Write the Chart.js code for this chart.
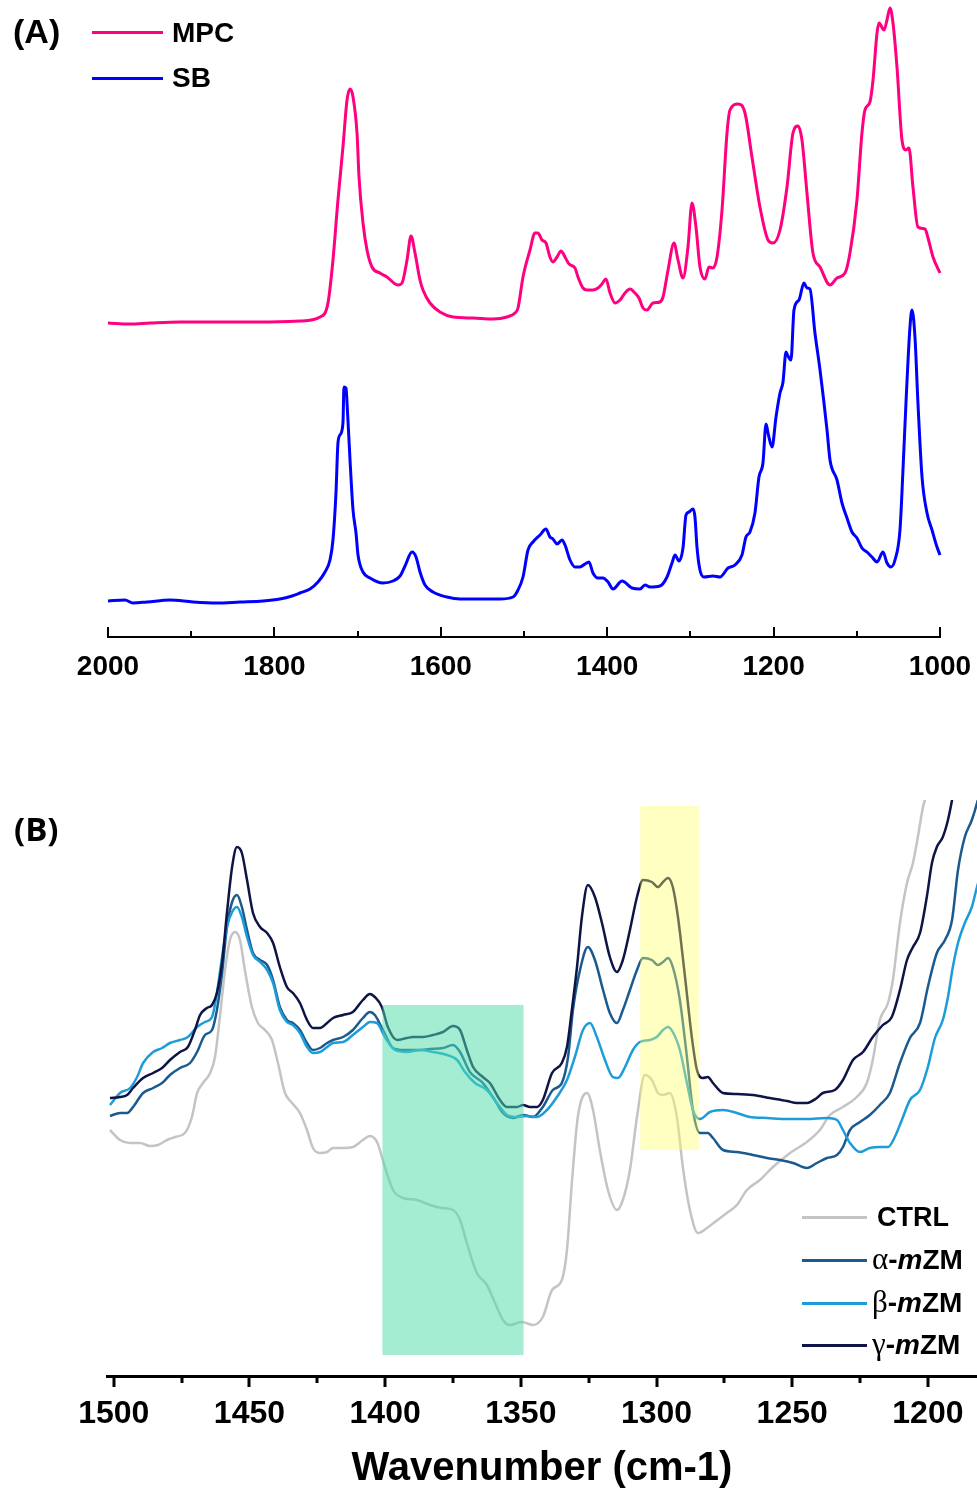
<!DOCTYPE html>
<html>
<head>
<meta charset="utf-8">
<script src="https://cdn.jsdelivr.net/npm/chart.js@4.4.1/dist/chart.umd.min.js"></script>
<style>
  html, body { margin: 0; padding: 0; background: #fff; }
  body { position: relative; width: 977px; height: 1489px; overflow: hidden; }
  canvas { position: absolute; left: 0px; }
  #cA { top: 0px; }
  #cB { top: 780px; }
  .t { position: absolute; white-space: nowrap; color: #000; font-family: 'Liberation Sans', Arial, sans-serif; font-weight: bold; }
  .ln { position: absolute; height: 3px; }
  .sym { font-family: 'Liberation Serif', 'DejaVu Serif', serif; font-weight: normal; font-size: 31px; }
  .it { font-style: italic; }
</style>
</head>
<body>
<canvas id="cA" width="977" height="700"></canvas>
<canvas id="cB" width="977" height="709"></canvas>

<div class="t" style="left:13px;top:14px;font-size:34px;line-height:34px;">(A)</div>
<div class="ln" style="left:92px;top:31px;width:71px;background:#FF0080"></div>
<div class="t" style="left:172px;top:19px;font-size:28px;line-height:28px;">MPC</div>
<div class="ln" style="left:92px;top:77px;width:71px;background:#0000FF"></div>
<div class="t" style="left:172px;top:64px;font-size:28px;line-height:28px;">SB</div>

<div class="t" style="left:14px;top:812px;font-size:33px;line-height:33px;font-family:'Open Sans',sans-serif;">(B)</div>

<div class="ln" style="left:802px;top:1216px;width:65px;background:#C4C4C4"></div>
<div class="t" style="left:877px;top:1203px;font-size:27px;line-height:28px;">CTRL</div>
<div class="ln" style="left:802px;top:1259px;width:65px;background:#1A5A8E"></div>
<div class="t" style="left:872px;top:1245px;font-size:28px;line-height:28px;"><span class="sym">α</span>-<span class="it">m</span>ZM</div>
<div class="ln" style="left:802px;top:1302px;width:65px;background:#1C9DD9"></div>
<div class="t" style="left:872px;top:1288px;font-size:28px;line-height:28px;"><span class="sym">β</span>-<span class="it">m</span>ZM</div>
<div class="ln" style="left:802px;top:1344px;width:65px;background:#0E1446"></div>
<div class="t" style="left:872px;top:1330px;font-size:28px;line-height:28px;"><span class="sym">γ</span>-<span class="it">m</span>ZM</div>

<script>
// ---------- Panel A data (wavenumber, absorbance a.u.) ----------
const mpcWn = [2000,1973.6,1949.5,1913.5,1865.4,1817.3,1769.2,1745.2,1735.6,1729.6,1723.6,1717.6,1712.7,1709.1,1705.5,1700.7,1698.3,1693.5,1688.7,1682.7,1673.1,1664.7,1651.4,1646.6,1640.6,1635.8,1631.0,1625.0,1621.4,1613.0,1601.0,1585.3,1561.3,1537.3,1520.4,1510.8,1507.2,1501.2,1492.8,1486.8,1483.2,1478.4,1473.6,1468.8,1465.2,1460.3,1455.5,1450.7,1445.9,1438.7,1435.1,1429.1,1424.3,1417.1,1411.1,1406.3,1401.5,1396.6,1390.6,1384.6,1378.6,1372.6,1366.6,1361.8,1357.0,1352.2,1345.0,1336.6,1332.9,1326.9,1319.7,1314.9,1308.9,1302.9,1298.1,1293.3,1288.5,1282.5,1277.7,1272.9,1268.0,1262.0,1256.0,1252.4,1242.8,1234.4,1226.0,1216.4,1206.7,1200.7,1192.3,1183.9,1176.7,1170.7,1165.9,1159.9,1152.7,1144.2,1132.2,1123.8,1114.2,1108.2,1099.8,1093.8,1090.2,1084.2,1080.5,1075.7,1073.3,1067.3,1063.7,1060.1,1056.5,1051.7,1045.7,1040.9,1037.3,1032.5,1026.5,1018.0,1014.4,1008.4,1000.0];
const mpcAbs = [314,313,314,315,315,315,316,320,334,377,437,490,537,548,540,504,460,414,387,370,364,360,352,354,377,401,384,357,347,334,325,320,319,318,320,324,329,360,387,404,404,397,394,380,375,380,386,380,373,369,360,349,347,347,349,353,358,344,334,337,344,348,344,339,329,327,334,335,340,367,394,377,359,390,434,410,370,358,370,369,380,427,504,527,533,524,480,430,397,394,407,450,504,511,497,444,384,370,352,359,364,384,437,504,527,535,557,604,614,607,617,629,614,570,497,487,489,450,410,408,399,380,364];
const sbWn = [2000,1979.6,1970.0,1953.1,1925.5,1897.8,1869.0,1841.3,1813.7,1793.3,1778.8,1769.2,1757.2,1747.6,1739.2,1733.2,1729.6,1726.0,1723.6,1721.2,1717.6,1716.4,1713.9,1712.7,1709.1,1705.5,1701.9,1699.5,1693.5,1685.1,1669.5,1657.5,1649.0,1643.0,1634.6,1629.8,1625.0,1619.0,1609.4,1592.6,1576.9,1549.3,1528.9,1513.2,1507.2,1501.2,1495.2,1489.2,1480.8,1473.6,1468.8,1465.2,1460.3,1454.3,1450.7,1444.7,1438.7,1432.7,1426.7,1421.9,1417.1,1411.1,1405.1,1399.0,1393.0,1382.2,1370.2,1360.6,1354.6,1348.6,1336.6,1328.1,1322.1,1318.5,1313.7,1308.9,1305.3,1301.7,1296.9,1294.5,1292.1,1288.5,1283.7,1272.9,1264.4,1254.8,1246.4,1238.0,1233.2,1228.4,1222.4,1217.6,1212.8,1209.1,1206.7,1201.9,1197.1,1192.3,1188.7,1185.1,1182.7,1179.1,1175.5,1169.5,1163.5,1159.9,1156.3,1150.3,1144.2,1135.8,1132.2,1123.8,1117.8,1111.8,1105.8,1099.8,1093.8,1087.8,1081.8,1075.7,1068.5,1063.7,1058.9,1054.1,1048.1,1044.5,1040.9,1036.1,1033.7,1030.1,1026.5,1021.6,1015.6,1009.6,1003.6,1000.0];
const sbAbs = [36,37,34,35,37,35,34,35,36,38,41,44,48,55,65,77,97,144,194,202,214,250,249,234,177,127,104,82,65,59,54,56,61,71,85,80,65,52,45,40,38,38,38,40,47,60,87,95,102,108,100,98,93,97,92,77,70,70,73,75,64,59,59,55,48,56,49,48,52,50,51,60,74,82,76,89,122,125,128,120,90,67,60,61,60,69,72,82,100,105,124,160,174,213,204,190,220,244,255,285,281,277,327,337,354,349,348,304,267,207,177,157,134,119,105,99,89,85,80,75,85,74,70,77,107,167,234,310,327,300,234,160,124,107,90,82];
const ticksA = [2000,1800,1600,1400,1200,1000];
const minorTicksA = [1900,1700,1500,1300,1100];

// ---------- Panel B data ----------
const ctrlWn = [1501.4,1497.7,1494.0,1490.3,1486.7,1483.7,1480.4,1477.4,1473.8,1471.2,1469.3,1467.1,1464.5,1462.7,1460.9,1459.0,1457.2,1455.3,1453.5,1451.7,1449.1,1446.9,1444.3,1441.7,1439.5,1436.9,1434.3,1431.4,1428.8,1426.6,1424.0,1421.4,1419.2,1415.5,1411.9,1408.2,1405.6,1403.0,1400.1,1397.1,1393.4,1388.3,1383.5,1379.1,1375.0,1372.4,1369.9,1366.2,1362.5,1359.5,1356.6,1354.0,1349.6,1345.5,1341.9,1338.5,1334.9,1333.0,1331.2,1329.0,1325.6,1323.4,1320.9,1317.9,1314.6,1312.4,1309.8,1307.2,1304.3,1301.7,1299.5,1297.6,1295.1,1292.5,1290.3,1287.7,1284.7,1281.4,1278.5,1274.1,1270.4,1266.7,1261.9,1257.1,1250.8,1244.6,1239.8,1236.1,1231.3,1226.2,1222.5,1220.3,1217.7,1214.7,1212.9,1210.3,1207.7,1205.5,1203.7,1201.8,1201.1,1198.5];
const ctrlAbs = [246,236,233,233,230,231,236,239,243,259,283,293,303,319,359,406,436,444,436,406,369,353,346,336,313,283,273,263,246,228,223,224,228,228,229,236,240,234,209,186,178,176,171,168,166,156,133,103,91,73,56,51,54,51,59,86,96,126,193,259,283,266,226,186,166,176,206,259,301,296,283,281,283,259,209,166,143,148,154,163,171,186,196,209,223,234,246,261,269,279,293,316,356,373,396,453,493,513,539,569,576,620];
const alphaWn = [1501.4,1497.7,1495.1,1492.9,1489.2,1485.5,1482.2,1479.3,1475.6,1471.9,1469.3,1466.4,1463.8,1462.0,1460.1,1458.3,1456.4,1454.6,1452.8,1450.9,1448.7,1446.1,1443.5,1441.3,1438.8,1436.2,1434.0,1431.4,1428.8,1426.6,1424.0,1421.4,1419.2,1415.5,1411.9,1408.2,1405.6,1403.8,1400.8,1397.1,1393.4,1388.3,1383.5,1378.7,1375.0,1372.4,1368.8,1364.0,1360.3,1356.6,1352.9,1349.2,1345.5,1341.9,1338.2,1334.9,1332.6,1330.8,1328.2,1325.3,1322.7,1319.7,1317.2,1314.6,1312.4,1309.8,1307.2,1305.0,1301.7,1299.5,1297.6,1295.8,1294.0,1291.4,1288.8,1286.6,1284.0,1281.1,1279.2,1275.5,1270.4,1264.5,1259.3,1254.5,1249.7,1244.6,1240.9,1237.2,1233.5,1231.3,1228.7,1225.0,1221.4,1217.7,1214.0,1210.3,1206.6,1202.9,1200.0,1196.7,1193.7,1191.1,1188.9,1186.4,1183.8,1181.9,1179.5];
const alphaAbs = [260,263,263,269,283,288,293,301,308,313,324,341,346,366,403,449,474,481,469,446,423,416,411,396,369,356,353,346,333,326,328,333,336,339,346,358,364,361,346,328,326,326,327,328,331,324,304,293,279,263,258,261,259,269,286,293,319,366,406,429,416,386,363,353,366,386,406,418,416,411,414,418,409,376,319,266,243,243,238,226,224,221,218,216,213,208,213,218,221,229,246,254,261,271,283,313,338,353,389,423,436,456,506,539,556,573,600];
const betaWn = [1501.4,1497.7,1494.0,1491.4,1489.2,1485.5,1482.2,1479.3,1475.6,1472.7,1469.3,1466.4,1463.8,1462.0,1460.1,1458.3,1456.4,1454.6,1452.8,1450.9,1448.7,1446.1,1443.5,1441.3,1438.8,1436.2,1434.0,1431.4,1428.8,1426.6,1424.0,1421.4,1419.2,1415.5,1411.9,1408.2,1405.6,1403.0,1400.1,1396.4,1392.0,1387.2,1382.4,1377.2,1373.5,1370.6,1366.9,1362.5,1358.8,1355.1,1351.4,1347.8,1344.1,1340.4,1336.7,1333.0,1330.1,1327.1,1324.5,1322.0,1319.0,1316.1,1314.2,1311.6,1308.7,1306.1,1302.4,1299.9,1297.6,1295.8,1294.0,1291.4,1288.8,1286.6,1284.0,1280.3,1275.5,1270.4,1265.6,1259.3,1251.9,1244.6,1237.2,1233.5,1231.3,1228.7,1225.0,1221.4,1217.7,1214.7,1212.2,1209.6,1206.6,1202.9,1200.0,1197.4,1194.5,1192.6,1190.8,1188.9,1186.4,1183.8,1181.9,1179.5];
const betaAbs = [271,283,288,299,313,324,328,333,336,339,349,354,359,383,419,449,464,469,459,439,421,414,406,393,366,354,351,343,329,323,324,329,333,334,341,349,354,353,339,326,324,326,324,321,316,304,293,286,273,261,259,260,259,266,279,296,319,346,353,339,316,299,298,309,326,334,336,339,346,349,344,326,293,266,257,264,266,263,259,258,257,257,258,256,246,233,224,228,229,229,239,256,276,286,309,338,356,379,409,433,453,469,489,510];
const gammaWn = [1501.4,1497.7,1495.1,1492.9,1489.2,1485.5,1482.2,1479.3,1475.6,1472.7,1470.1,1468.2,1465.7,1463.8,1462.0,1460.1,1458.3,1456.4,1454.6,1452.8,1450.9,1448.7,1446.1,1443.5,1441.3,1438.8,1436.2,1434.0,1431.4,1428.8,1426.6,1424.0,1421.4,1419.2,1415.5,1411.9,1408.2,1405.6,1403.8,1401.2,1399.0,1395.6,1392.0,1389.8,1386.1,1382.4,1378.7,1375.0,1372.4,1369.9,1367.6,1364.0,1361.4,1357.7,1355.1,1351.4,1349.2,1346.6,1344.1,1341.9,1338.5,1334.9,1333.0,1331.2,1329.3,1327.5,1325.3,1322.7,1320.1,1317.2,1314.6,1312.4,1309.8,1307.2,1305.0,1301.7,1299.5,1297.6,1295.8,1294.0,1292.1,1289.5,1287.0,1285.1,1282.9,1281.1,1279.2,1275.5,1270.4,1264.5,1258.2,1251.9,1248.3,1244.6,1240.9,1238.7,1234.3,1231.3,1227.6,1223.9,1220.3,1216.6,1213.3,1210.3,1207.7,1205.5,1202.9,1200.4,1198.5,1196.7,1194.5,1192.6,1191.1,1188.9];
const gammaAbs = [278,279,281,288,298,303,308,316,324,329,346,361,368,371,383,413,463,509,529,523,496,463,449,443,433,409,389,383,373,356,348,348,353,358,361,364,376,382,379,369,349,336,338,339,339,341,344,350,346,326,309,299,293,276,269,269,271,269,269,276,303,313,329,366,409,459,491,479,453,419,404,416,446,479,496,494,489,494,498,489,459,399,339,306,298,299,293,283,282,281,278,275,273,273,278,283,286,296,316,324,339,351,359,386,416,429,443,479,513,529,539,556,576,610];
const ticksB = [1500,1450,1400,1350,1300,1250,1200];
const minorTicksB = [1475,1425,1375,1325,1275,1225];
// highlighted bands: [wavenumber from, wavenumber to, absorbance low, absorbance high]
const greenBand = [1401, 1349, 21, 371];
const yellowBand = [1306, 1284.4, 226, 570];

// ---------- plugins ----------
const axisTicks = {
  id: 'axisTicks',
  afterDraw(chart, args, o) {
    const s = chart.scales.x, ctx = chart.ctx;
    const y0 = s.top;
    ctx.save();
    ctx.strokeStyle = '#000';
    ctx.lineWidth = o.width;
    const draw = (vals, len) => vals.forEach(v => {
      const x = Math.round(s.getPixelForValue(v));
      ctx.beginPath(); ctx.moveTo(x, y0); ctx.lineTo(x, y0 + o.dir * len); ctx.stroke();
    });
    draw(o.major, o.majorLen);
    draw(o.minor, o.minorLen);
    ctx.restore();
  }
};
const bands = {
  id: 'bands',
  afterDatasetsDraw(chart, args, o) {
    if (!o.items) return;
    const xs = chart.scales.x, ys = chart.scales.y, ctx = chart.ctx;
    ctx.save();
    o.items.forEach(b => {
      const x1 = xs.getPixelForValue(b.band[0]), x2 = xs.getPixelForValue(b.band[1]);
      const y1 = ys.getPixelForValue(b.band[3]), y2 = ys.getPixelForValue(b.band[2]);
      ctx.fillStyle = b.color;
      ctx.fillRect(x1, y1, x2 - x1, y2 - y1);
    });
    ctx.restore();
  }
};

const pts = (xs, ys) => xs.map((x, i) => ({x: x, y: ys[i]}));
const lineDs = (label, xs, ys, color, w, order) => ({
  label, data: pts(xs, ys), borderColor: color, backgroundColor: color, borderWidth: w,
  pointRadius: 0, fill: false, cubicInterpolationMode: 'monotone', order
});
const fontTick = (size) => ({family: "'Liberation Sans', Arial, sans-serif", size, weight: 'bold', lineHeight: 1});
const fitX = (h) => (s) => { s.height = h; s.paddingLeft = 0; s.paddingRight = 0; };

// ---------- Chart A ----------
new Chart(document.getElementById('cA'), {
  type: 'line',
  data: { datasets: [
    lineDs('MPC', mpcWn, mpcAbs, '#FF0080', 3, 0),
    lineDs('SB', sbWn, sbAbs, '#0000FF', 3, 1)
  ]},
  options: {
    responsive: false, animation: false, devicePixelRatio: 1,
    layout: { padding: { left: 108, right: 37, top: 0, bottom: 0 } },
    datasets: { line: { clip: false } },
    plugins: {
      legend: { display: false }, tooltip: { enabled: false },
      axisTicks: { major: ticksA, minor: minorTicksA, majorLen: 10, minorLen: 6, dir: -1, width: 2 }
    },
    scales: {
      x: {
        type: 'linear', reverse: true, min: 1000, max: 2000,
        afterBuildTicks: s => { s.ticks = ticksA.map(v => ({value: v})); },
        afterFit: fitX(63),
        grid: { display: false, drawTicks: false },
        border: { display: true, color: '#000', width: 2 },
        ticks: { font: fontTick(28), color: '#000', padding: 16, maxRotation: 0, autoSkip: false, callback: v => String(v) }
      },
      y: { display: false, min: 0, max: 637 }
    }
  },
  plugins: [axisTicks]
});

// ---------- Chart B ----------
new Chart(document.getElementById('cB'), {
  type: 'line',
  data: { datasets: [
    lineDs('CTRL', ctrlWn, ctrlAbs, '#C4C4C4', 2.5, 3),
    lineDs('α-mZM', alphaWn, alphaAbs, '#1A5A8E', 2.5, 2),
    lineDs('β-mZM', betaWn, betaAbs, '#1C9DD9', 2.5, 1),
    lineDs('γ-mZM', gammaWn, gammaAbs, '#0E1446', 2.5, 0)
  ]},
  options: {
    responsive: false, animation: false, devicePixelRatio: 1,
    layout: { padding: { left: 107, right: 0, top: 20, bottom: 0 } },
    plugins: {
      legend: { display: false }, tooltip: { enabled: false },
      axisTicks: { major: ticksB, minor: minorTicksB, majorLen: 11, minorLen: 7, dir: 1, width: 3 },
      bands: { items: [
        { band: greenBand, color: 'rgba(80,220,170,0.52)' },
        { band: yellowBand, color: 'rgba(255,255,100,0.40)' }
      ]}
    },
    scales: {
      x: {
        type: 'linear', reverse: true, min: 1181.9, max: 1502.5,
        afterBuildTicks: s => { s.ticks = ticksB.map(v => ({value: v})); },
        afterFit: fitX(113),
        grid: { display: false, drawTicks: false },
        border: { display: true, color: '#000', width: 3 },
        ticks: { font: fontTick(32), color: '#000', padding: 22, maxRotation: 0, autoSkip: false, callback: v => String(v) },
        title: { display: true, text: 'Wavenumber (cm-1)', color: '#000',
                 font: { family: "'Liberation Sans', Arial, sans-serif", size: 40, weight: 'bold', lineHeight: 1 },
                 padding: { top: 0, bottom: 0 } }
      },
      y: { display: false, min: 0, max: 576 }
    }
  },
  plugins: [axisTicks, bands]
});
</script>
</body>
</html>
